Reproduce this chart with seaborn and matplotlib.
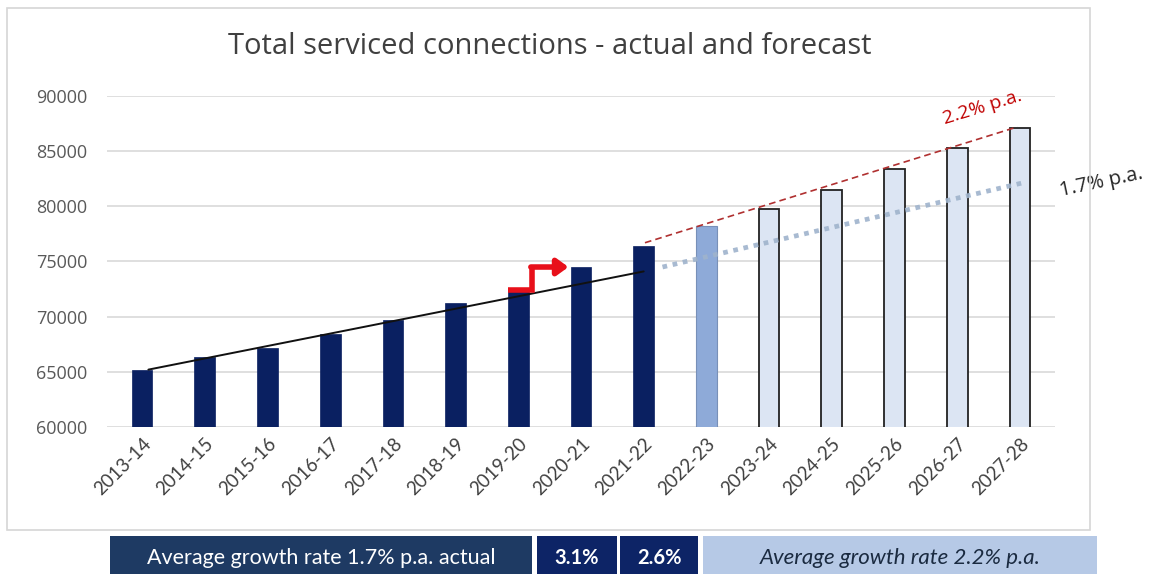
import matplotlib
matplotlib.use("Agg")
import matplotlib.pyplot as plt
from matplotlib.patches import Rectangle
import seaborn as sns
import pandas as pd

# ---- data ----
years = ["2013-14", "2014-15", "2015-16", "2016-17", "2017-18", "2018-19", "2019-20",
         "2020-21", "2021-22", "2022-23", "2023-24", "2024-25", "2025-26", "2026-27", "2027-28"]
connections = [65200, 66300, 67200, 68400, 69700, 71200, 72300,
               74500, 76400, 78200, 79800, 81500, 83400, 85300, 87100]
kind = ["actual"] * 9 + ["current"] + ["forecast"] * 5

# trend lines (x in category index units)
actual_trend_x = [0.1, 8.0]
actual_trend_y = [65200, 74100]
proj_trend_x = [8.3, 14.1]
proj_trend_y = [74500, 82200]
fc_trend_x = [8.02, 13.96]
fc_trend_y = [76700, 87200]

# step arrow (2019-20 -> 2020-21)
arrow_x = [5.84, 6.22, 6.22]
arrow_y = [72420, 72420, 74500]
arrow_head_x = 6.8

title = "Total serviced connections - actual and forecast"
yticks = [60000, 65000, 70000, 75000, 80000, 85000, 90000]

box_texts = ["Average growth rate 1.7% p.a. actual", "3.1%", "2.6%", "Average growth rate 2.2% p.a."]

# ---- style ----
NAVY = "#0a2061"
CUR = "#8eaad8"
FC = "#dce5f3"
color_map = {"actual": NAVY, "current": CUR, "forecast": FC}

sns.set_theme(style="white")
plt.rcParams["font.family"] = ["Lato", "DejaVu Sans"]

W, H = 1152, 574
fig = plt.figure(figsize=(W / 100, H / 100), dpi=100)
fig.patch.set_facecolor("white")

def fx(px):
    return px / W

def fy(py):
    return 1 - py / H

# chart frame
fig.patches.append(Rectangle((fx(7), fy(530)), fx(1090) - fx(7), fy(8) - fy(530),
                             transform=fig.transFigure, facecolor="none",
                             edgecolor="#d6d6d6", lw=1.2, zorder=0))

ax = fig.add_axes([fx(107), fy(427), fx(1055) - fx(107), fy(96) - fy(427)])
ax.set_facecolor("none")

df = pd.DataFrame({"year": years, "value": connections, "kind": kind})
palette = [color_map[k] for k in kind]
sns.barplot(data=df, x="year", y="value", hue="year", palette=palette, legend=False,
            width=0.33, saturation=1, ax=ax, zorder=3)

for p, k in zip(ax.patches, kind):
    if k == "forecast":
        p.set_edgecolor("#222222")
        p.set_linewidth(1.3)
    elif k == "current":
        p.set_edgecolor("#7890b8")
        p.set_linewidth(0.8)
    else:
        p.set_edgecolor(p.get_facecolor())
        p.set_linewidth(0.5)

ax.set_ylim(60000, 90000)
ax.set_xlim(-0.56, 14.56)
ax.set_yticks(yticks)
ax.yaxis.grid(True, color="#d9d9d9", lw=1.2, zorder=0)
ax.set_axisbelow(True)
for s in ax.spines.values():
    s.set_visible(False)
ax.set_xlabel("")
ax.set_ylabel("")
ax.tick_params(axis="y", labelsize=13, labelcolor="#595959", length=0, pad=14)
ax.tick_params(axis="x", labelsize=13.5, labelcolor="#404040", length=0, pad=6)
ax.set_yticklabels([str(v) for v in yticks], family=["Open Sans", "DejaVu Sans"])
ax.set_xticks(range(len(years)))
ax.set_xticklabels(years, rotation=45, ha="right", rotation_mode="anchor")

# trend lines
ax.plot(actual_trend_x, actual_trend_y, color="#111111", lw=1.4, zorder=4)
ax.plot(proj_trend_x, proj_trend_y, color="#9fb3cc", lw=3.4, ls=(0, (1, 1.2)), zorder=4, alpha=0.9)
ax.plot(fc_trend_x, fc_trend_y, color="#b03030", lw=1.2, ls=(0, (4, 2.5)), zorder=5)

ax.text(13.4, 89000, "2.2% p.a.", color="#c00000", fontsize=14, rotation=17,
        ha="center", va="center", family=["Open Sans", "DejaVu Sans"], clip_on=False)
ax.text(15.3, 82200, "1.7% p.a.", color="#262626", fontsize=14.5, rotation=12,
        ha="center", va="center", family=["Open Sans", "DejaVu Sans"], clip_on=False)

# red step arrow
ax.plot(arrow_x, arrow_y, color="#e8101a", lw=4, solid_joinstyle="miter",
        solid_capstyle="butt", zorder=6)
ax.annotate("", xy=(arrow_head_x, arrow_y[-1]), xytext=(arrow_x[-1] - 0.02, arrow_y[-1]),
            arrowprops=dict(arrowstyle="-|>,head_length=0.55,head_width=0.4", color="#e8101a",
                            lw=4, shrinkA=0, shrinkB=0), zorder=6)

fig.text(fx(550), fy(46), title, ha="center", va="center", fontsize=21, color="#404040",
         family=["Open Sans", "DejaVu Sans"])

# bottom boxes
boxes = [(110, 532, "#1e3a63", "white", "normal", "normal", 15.5),
         (537, 617, "#0d2466", "white", "bold", "normal", 14.5),
         (620, 698, "#0d2466", "white", "bold", "normal", 14.5),
         (703, 1097, "#b6c9e6", "#1a2a40", "normal", "italic", 16)]
for (x0, x1, fc, tc, fw, st, fs), t in zip(boxes, box_texts):
    fig.patches.append(Rectangle((fx(x0), 0), fx(x1) - fx(x0), fy(536),
                                 transform=fig.transFigure, facecolor=fc, edgecolor="none"))
    fig.text(fx((x0 + x1) / 2), fy(558), t, ha="center", va="center", color=tc,
             fontsize=fs, fontweight=fw, fontstyle=st)

fig.savefig("out.png", dpi=100, facecolor="white")
